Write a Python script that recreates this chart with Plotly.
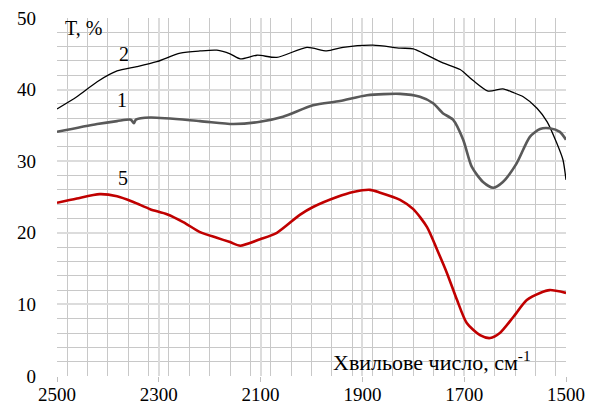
import plotly.graph_objects as go

# Curve 2 (black)
w2 = [2500, 2461, 2421, 2382, 2343, 2304, 2258, 2219, 2186, 2160, 2140, 2107, 2068, 2009,
      1970, 1938, 1879, 1826, 1800, 1781, 1744, 1708, 1683, 1653, 1624, 1604, 1584, 1557,
      1537, 1518, 1506, 1500]
t2 = [37.3, 39.0, 41.1, 42.6, 43.2, 43.9, 45.1, 45.4, 45.5, 45.0, 44.3, 44.8, 44.5, 45.9,
      45.4, 45.9, 46.2, 45.8, 45.7, 45.1, 43.8, 42.8, 41.3, 39.8, 40.1, 39.6, 39.0, 37.4,
      35.5, 32.5, 30.2, 27.4]

# Curve 1 (grey)
w1 = [2500, 2421, 2382, 2355, 2349, 2345, 2317, 2219, 2154, 2101, 2056, 1997, 1944, 1891,
      1826, 1787, 1761, 1742, 1722, 1702, 1685, 1663, 1643, 1624, 1597, 1571, 1551, 1532,
      1512, 1500]
t1 = [34.1, 35.2, 35.6, 35.8, 35.3, 35.8, 36.1, 35.6, 35.2, 35.5, 36.2, 37.8, 38.4, 39.2,
      39.4, 39.0, 38.1, 36.7, 35.8, 33.0, 29.2, 27.1, 26.3, 27.1, 29.7, 33.4, 34.5, 34.6,
      34.1, 33.0]

# Curve 5 (red)
w5 = [2500, 2461, 2416, 2382, 2350, 2317, 2284, 2252, 2219, 2186, 2160, 2140, 2101, 2068,
      2023, 1997, 1950, 1918, 1885, 1865, 1826, 1800, 1773, 1753, 1734, 1714, 1695, 1669,
      1649, 1630, 1604, 1577, 1551, 1532, 1500]
t5 = [24.2, 24.8, 25.4, 25.1, 24.3, 23.3, 22.6, 21.5, 20.1, 19.3, 18.7, 18.2, 19.1, 20.0,
      22.5, 23.6, 25.0, 25.7, 26.0, 25.6, 24.6, 23.3, 20.8, 17.6, 14.4, 10.6, 7.4, 5.7,
      5.3, 6.0, 8.2, 10.6, 11.6, 12.0, 11.6]

x_ticks = [2500, 2300, 2100, 1900, 1700, 1500]
y_ticks = [0, 10, 20, 30, 40, 50]

FONT = "Liberation Serif, Times New Roman, DejaVu Serif, serif"

fig = go.Figure()
fig.add_trace(go.Scatter(x=w2, y=t2, mode="lines",
                         line=dict(color="#000000", width=1.3, shape="spline", smoothing=0.7)))
fig.add_trace(go.Scatter(x=w1, y=t1, mode="lines",
                         line=dict(color="#595959", width=2.6, shape="spline", smoothing=0.7)))
fig.add_trace(go.Scatter(x=w5, y=t5, mode="lines",
                         line=dict(color="#c00000", width=2.6, shape="spline", smoothing=0.7)))

annots = [
    dict(x=2488, y=48.6, text="T, %", xanchor="left", size=20),
    dict(x=2368, y=45.0, text="2", xanchor="center", size=20),
    dict(x=2372, y=38.5, text="1", xanchor="center", size=20),
    dict(x=2370, y=27.7, text="5", xanchor="center", size=20),
    dict(x=1565, y=2.1, text="Хвильове число, см<sup>-1</sup>", xanchor="right", size=22),
]
for a in annots:
    fig.add_annotation(x=a["x"], y=a["y"], text=a["text"], xanchor=a["xanchor"],
                       yanchor="middle", showarrow=False,
                       font=dict(family=FONT, size=a["size"], color="#000000"))

fig.update_layout(
    width=592, height=404,
    margin=dict(l=57, r=26, t=18, b=28),
    paper_bgcolor="white", plot_bgcolor="white",
    showlegend=False,
    font=dict(family=FONT, size=19, color="#000000"),
    xaxis=dict(range=[2500, 1500], tickvals=x_ticks, ticktext=[str(v) for v in x_ticks],
               showgrid=True, gridcolor="#dcdcdc", gridwidth=2,
               minor=dict(dtick=40, showgrid=True, gridcolor="#c8c8c8", gridwidth=1),
               ticks="outside", ticklen=5, tickcolor="#bfbfbf", zeroline=False,
               showline=False, automargin=False, ticklabelstandoff=-4,
               tickfont=dict(family=FONT, size=19)),
    yaxis=dict(range=[0, 50], tickvals=y_ticks, ticktext=[str(v) for v in y_ticks],
               showgrid=True, gridcolor="#dcdcdc", gridwidth=2,
               minor=dict(dtick=2, showgrid=True, gridcolor="#c8c8c8", gridwidth=1),
               ticks="", zeroline=False, showline=False, automargin=False,
               ticklabelstandoff=20, tickfont=dict(family=FONT, size=19)),
)

fig.write_html("out.html")
